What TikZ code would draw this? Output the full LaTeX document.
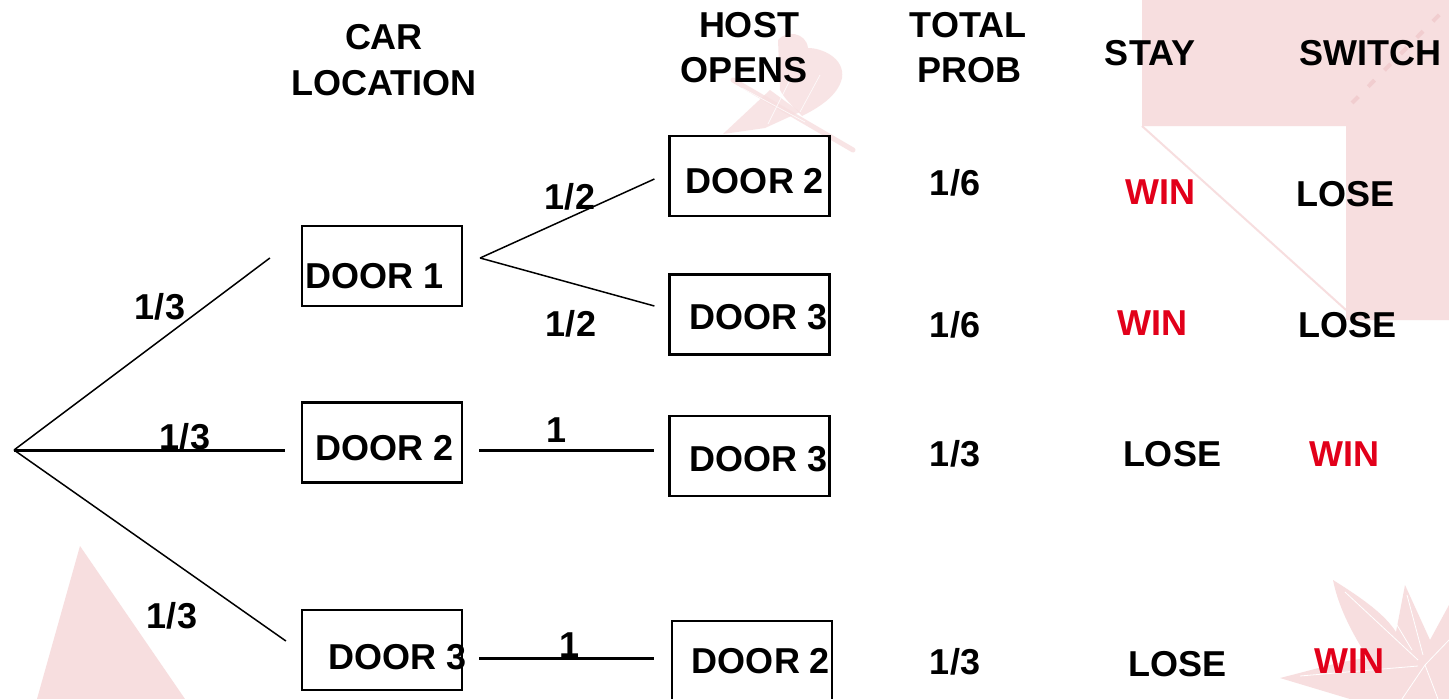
\documentclass[tikz,border=0pt]{standalone}
\usepackage{fontspec}
\setmainfont{Liberation Sans}
\usetikzlibrary{calc}
\definecolor{bgpink}{RGB}{247,222,223}
\definecolor{deeppink}{RGB}{241,205,207}
\definecolor{winred}{RGB}{226,0,26}
\tikzset{
  txt/.style={font=\bfseries\fontsize{36}{44}\selectfont, inner sep=0pt, anchor=base},
  hdr/.style={txt},
  win/.style={txt, text=winred},
  doorbox/.style={draw=black, line width=2.2pt, minimum width=160pt, minimum height=80pt, inner sep=0pt},
  branch/.style={draw=black, line width=1.5pt},
  trunk/.style={draw=black, line width=3pt},
}
\begin{document}
\begin{tikzpicture}[x=1pt,y=-1pt]
\useasboundingbox (0,0) rectangle (1449,699);
\clip (0,0) rectangle (1449,699);
\fill[white] (0,0) rectangle (1449,699);

% faint ornaments behind the tree
\fill[bgpink] (1142,0) -- (1449,0) -- (1449,320) -- (1346,320) -- (1346,126) -- (1142,126) -- cycle;
\draw[bgpink, line width=2pt] (1142,126) -- (1346,310);
\draw[deeppink, line width=4pt, dash pattern=on 9pt off 14pt] (1352,103) -- (1449,5);
\fill[bgpink] (80,546) -- (185,699) -- (37,699) -- cycle;
% dragonfly
\begin{scope}[opacity=0.8]
\fill[bgpink] (778,40) .. controls (786,30) and (806,32) .. (808,48)
  .. controls (822,48) and (845,58) .. (842,78)
  .. controls (838,96) and (818,108) .. (802,116)
  .. controls (795,108) and (785,100) .. (780,90) -- cycle;
\fill[bgpink] (770,90) -- (800,112) -- (765,128) -- (723,134) -- cycle;
\draw[bgpink, line width=5pt, line cap=round] (733,80) -- (853,150);
\draw[white, line width=0.7pt] (742,88) -- (805,122) (768,124) -- (790,80) (800,112) -- (820,75);
\end{scope}
% star flower
\fill[bgpink] (1333,580) .. controls (1365,600) and (1385,615) .. (1396,632)
  -- (1405,585) -- (1430,640) -- (1449,605) -- (1449,699) -- (1350,699)
  -- (1280,678) .. controls (1320,668) and (1345,660) .. (1368,658)
  .. controls (1350,630) and (1338,605) .. (1333,580) -- cycle;
\draw[white, line width=0.8pt] (1345,592) -- (1418,660) (1407,595) -- (1423,655)
  (1300,676) -- (1418,666) (1449,640) -- (1425,665) -- (1402,699) (1425,665) -- (1438,699)
  (1388,610) -- (1412,650);

% column headings
\node[hdr] (carA) at (384,49) {CAR};
\node[hdr] (carB) at (384,95) {LOCATION};
\node[hdr] (hostA) at (749,37) {HOST};
\node[hdr] (hostB) at (744,82) {OPENS};
\node[hdr] (totA) at (968,37) {TOTAL};
\node[hdr] (totB) at (969,82) {PROB};
\node[hdr] (stay) at (1150,65) {STAY};
\node[hdr] (switch) at (1370,65) {SWITCH};

% car location boxes
\node[doorbox] (c1) at (382,266) {};
\node[doorbox] (c2) at (382,442.5) {};
\node[doorbox] (c3) at (382,650) {};
\node[txt] (c1t) at (374.5,288) {DOOR 1};
\node[txt] (c2t) at (384.5,460) {DOOR 2};
\node[txt] (c3t) at (397.5,669) {DOOR 3};

% host opens boxes
\node[doorbox] (h1) at (749.5,176) {};
\node[doorbox] (h2) at (749.5,314.5) {};
\node[doorbox] (h3) at (749.5,456) {};
\node[doorbox] (h4) at (752,661) {};
\node[txt] (h1t) at (755,193) {DOOR 2};
\node[txt] (h2t) at (758.5,329) {DOOR 3};
\node[txt] (h3t) at (758.5,471) {DOOR 3};
\node[txt] (h4t) at (761,673) {DOOR 2};

% branches
\coordinate (root) at (14,450);
\draw[branch] (root) -- ($(c1.west)+(-31,-8)$);
\draw[trunk] (root) -- ($(c2.west)+(-16,7.5)$);
\draw[branch] (root) -- ($(c3.west)+(-15,-9)$);
\draw[branch] ($(c1.east)+(17,-8)$) -- ($(h1.west)+(-14,3)$);
\draw[branch] ($(c1.east)+(17,-8)$) -- ($(h2.west)+(-14,-8.5)$);
\draw[trunk] ($(c2.east)+(16,7.5)$) -- ($(h3.west)+(-14,-6)$);
\draw[trunk] ($(c3.east)+(16,8)$) -- ($(h4.west)+(-17,-3)$);

% branch probabilities
\node[txt] (p1) at (160,319) {1/3};
\node[txt] (p2) at (185,449) {1/3};
\node[txt] (p3) at (172,628) {1/3};
\node[txt] (q1) at (570,209) {1/2};
\node[txt] (q2) at (571,336) {1/2};
\node[txt] (q3) at (557,442) {1};
\node[txt] (q4) at (570,657) {1};

% total probability
\node[txt] (t1) at (955,195) {1/6};
\node[txt] (t2) at (955,337) {1/6};
\node[txt] (t3) at (955,466) {1/3};
\node[txt] (t4) at (955,674) {1/3};

% stay outcomes
\node[win] (s1) at (1160,204) {WIN};
\node[win] (s2) at (1152,335) {WIN};
\node[txt] (s3) at (1172,466) {LOSE};
\node[txt] (s4) at (1177,676) {LOSE};

% switch outcomes
\node[txt] (w1) at (1345,206) {LOSE};
\node[txt] (w2) at (1347,337) {LOSE};
\node[win] (w3) at (1344,466) {WIN};
\node[win] (w4) at (1349,673) {WIN};
\end{tikzpicture}
\end{document}
